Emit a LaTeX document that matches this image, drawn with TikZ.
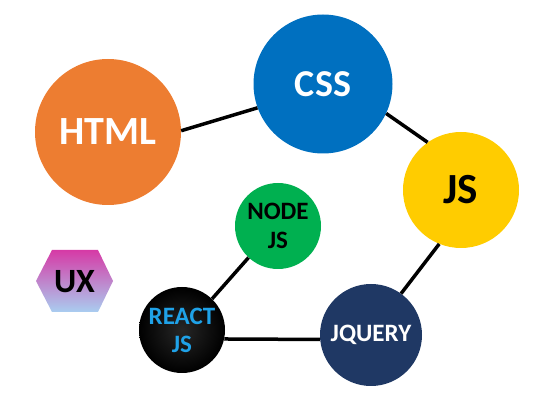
\documentclass[tikz,border=0pt]{standalone}
\usepackage{fontspec}
\setmainfont{Carlito}
\definecolor{htmlc}{HTML}{ED7D31}
\definecolor{cssc}{HTML}{0070C0}
\definecolor{jsc}{HTML}{FFCC00}
\definecolor{nodec}{HTML}{00B050}
\definecolor{jqc}{HTML}{1F3864}
\definecolor{reactt}{HTML}{1FA2E8}
\definecolor{uxtop}{HTML}{D63AA6}
\definecolor{uxbot}{HTML}{A9CDF0}
\tikzset{
  bubble/.style={circle, inner sep=0pt, align=center},
  link/.style={line width=3.5pt, black},
}
\begin{document}
\begin{tikzpicture}[x=1pt,y=-1pt]
\useasboundingbox (0,0) rectangle (550,401);
\node[bubble, fill=htmlc, minimum size=146pt, text=white, font=\bfseries\fontsize{40}{40}\selectfont] (html) at (108,132) {HTML};
\node[bubble, fill=cssc, minimum size=139pt, text=white, font=\bfseries\fontsize{38}{38}\selectfont] (css) at (323,84) {CSS};
\node[bubble, fill=jsc, minimum size=116pt, text=black, font=\bfseries\fontsize{43}{43}\selectfont] (js) at (461,190) {JS};
\node[bubble, fill=nodec, minimum size=86pt, text=black, font=\bfseries\fontsize{25}{29}\selectfont] (nodejs) at (278,226) {NODE\\JS};
\node[bubble, inner color=black!85, outer color=black, minimum size=86pt, text=reactt, font=\bfseries\fontsize{25}{28}\selectfont] (react) at (182,330) {REACT\\JS};
\node[bubble, fill=jqc, minimum size=102pt, text=white, font=\bfseries\fontsize{25}{25}\selectfont] (jquery) at (371,335) {JQUERY};
\shade[top color=uxtop, bottom color=uxbot] (52,250) -- (98,250) -- (113,281) -- (98,312) -- (52,312) -- (36,281) -- cycle;
\node[inner sep=0pt, font=\bfseries\fontsize{34}{34}\selectfont] (ux) at (74.5,282) {UX};
\draw[link] (html.1) -- (css.200);
\draw[link] (css.-25) -- (js.125);
\draw[link] (js.-112) -- (jquery.54);
\draw[link] (react.-12) -- (jquery.185);
\draw[link] (react.46) -- (nodejs.227);
\end{tikzpicture}
\end{document}
